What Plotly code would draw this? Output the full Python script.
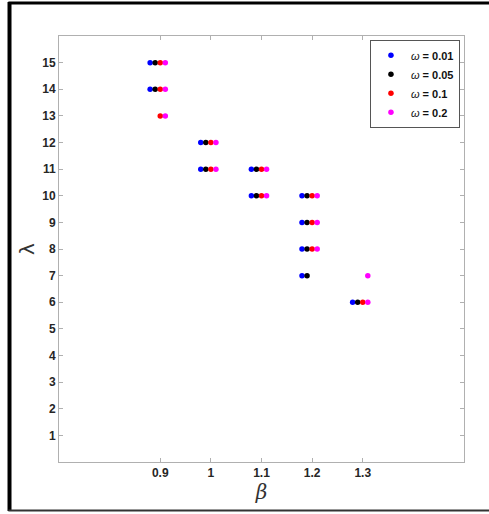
import plotly.graph_objects as go

omega_labels = ["0.01", "0.05", "0.1", "0.2"]
colors = ["#0000ff", "#000000", "#ff0000", "#ff00ff"]

# beta positions (per omega, slightly offset) and lambda values
beta_w001 = [0.88, 0.88, 0.98, 0.98, 1.08, 1.08, 1.18, 1.18, 1.18, 1.18, 1.28]
lam_w001 = [15, 14, 12, 11, 11, 10, 10, 9, 8, 7, 6]

beta_w005 = [0.89, 0.89, 0.99, 0.99, 1.09, 1.09, 1.19, 1.19, 1.19, 1.19, 1.29]
lam_w005 = [15, 14, 12, 11, 11, 10, 10, 9, 8, 7, 6]

beta_w01 = [0.90, 0.90, 0.90, 1.00, 1.00, 1.10, 1.10, 1.20, 1.20, 1.20, 1.30]
lam_w01 = [15, 14, 13, 12, 11, 11, 10, 10, 9, 8, 6]

beta_w02 = [0.91, 0.91, 0.91, 1.01, 1.01, 1.11, 1.11, 1.21, 1.21, 1.21, 1.31, 1.31]
lam_w02 = [15, 14, 13, 12, 11, 11, 10, 10, 9, 8, 7, 6]

series = [(beta_w001, lam_w001), (beta_w005, lam_w005), (beta_w01, lam_w01), (beta_w02, lam_w02)]

x_ticks = [0.9, 1.0, 1.1, 1.2, 1.3]
x_ticklabels = ["0.9", "1", "1.1", "1.2", "1.3"]
y_ticks = list(range(1, 16))

fig = go.Figure()
for (bx, ly), lab, c in zip(series, omega_labels, colors):
    fig.add_trace(go.Scatter(
        x=bx, y=ly, mode="markers",
        marker=dict(color=c, size=5.5, line=dict(width=0)),
        name="<i>ω</i> <b>= " + lab + "</b>",
    ))

axis_common = dict(
    showline=True, linecolor="#b0b0b0", linewidth=1, mirror="ticks",
    ticks="inside", ticklen=4, tickcolor="#b0b0b0", tickwidth=1,
    showgrid=False, zeroline=False,
    tickfont=dict(family="Liberation Sans, Arial", size=12, color="#262626", weight="bold"),
)

fig.update_xaxes(range=[0.7, 1.5], tickvals=x_ticks, ticktext=x_ticklabels,
                 title=dict(text="<i>β</i>", font=dict(family="DejaVu Serif", size=20, color="#333333"), standoff=4),
                 **axis_common)
fig.update_yaxes(range=[0, 16], tickvals=y_ticks,
                 title=dict(text="λ", font=dict(family="DejaVu Sans", size=20, color="#333333"), standoff=2),
                 **axis_common)

# outer black frame
fig.add_shape(type="line", xref="paper", yref="paper", x0=-0.125, x1=1.07, y0=1.0775, y1=1.0775,
              line=dict(color="black", width=3))
fig.add_shape(type="line", xref="paper", yref="paper", x0=-0.1222, x1=-0.1222, y0=-0.115, y1=1.08,
              line=dict(color="black", width=4))
fig.add_shape(type="line", xref="paper", yref="paper", x0=-0.125, x1=1.07, y0=-0.1138, y1=-0.1138,
              line=dict(color="#333333", width=2))

fig.update_layout(
    width=489, height=514,
    margin=dict(l=59, r=25, t=36, b=52),
    plot_bgcolor="white", paper_bgcolor="white",
    showlegend=True,
    legend=dict(x=0.99, y=0.991, xanchor="right", yanchor="top",
                bgcolor="white", bordercolor="#555555", borderwidth=1,
                font=dict(family="Liberation Sans, Arial", size=11, color="#111111"),
                itemsizing="trace", tracegroupgap=0, itemwidth=30,
                ),
)

fig.write_html("out.html")
